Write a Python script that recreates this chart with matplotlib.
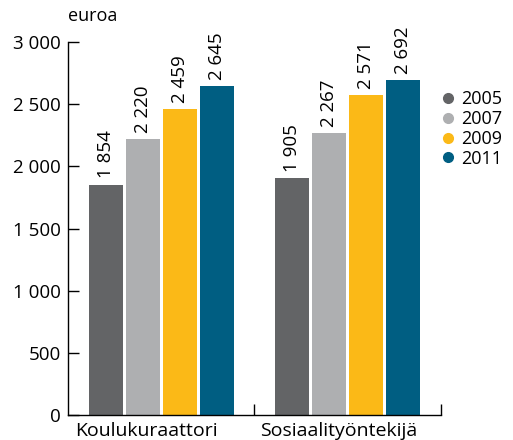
import numpy as np
import matplotlib.pyplot as plt
from matplotlib.lines import Line2D

plt.rcParams['font.family'] = ['Open Sans', 'DejaVu Sans']

# Keskiansiot ammateittain
categories = ['Koulukuraattori', 'Sosiaalityöntekijä']
years = ['2005', '2007', '2009', '2011']
values_2005 = [1854, 1905]
values_2007 = [2220, 2267]
values_2009 = [2459, 2571]
values_2011 = [2645, 2692]
series = [values_2005, values_2007, values_2009, values_2011]
colors = ['#636466', '#aeafb1', '#fbb917', '#005e82']
yticks = [0, 500, 1000, 1500, 2000, 2500, 3000]


def fmt(v):
    return f'{v:,}'.replace(',', ' ')


fig = plt.figure(figsize=(5.13, 4.40), dpi=100)
ax = fig.add_axes([0.1326, 0.0568, 0.727, 0.8477])

centers = np.arange(len(categories)) + 0.5
width = 0.182
step = 0.198

for i, (vals, col) in enumerate(zip(series, colors)):
    xs = centers + (i - 1.5) * step
    ax.bar(xs, vals, width=width, color=col)
    for x, v in zip(xs, vals):
        ax.text(x, v + 50, fmt(v), rotation=90, ha='center', va='bottom', fontsize=13.5)

ax.set_xlim(0, 2)
ax.set_ylim(0, 3000)
ax.set_yticks(yticks)
ax.set_yticklabels([fmt(t) for t in yticks], fontsize=13.5)
ax.set_xticks([1, 2])
ax.set_xticklabels([])
ax.tick_params(axis='both', direction='in', length=8, width=1, color='black')
ax.tick_params(axis='y', pad=5)

for s in ['top', 'right']:
    ax.spines[s].set_visible(False)
for s in ['left', 'bottom']:
    ax.spines[s].set_linewidth(1)

# Kategorioiden nimet vasempaan reunaan
ax.text(0.04, -55, categories[0], ha='left', va='top', fontsize=14)
ax.text(1.03, -55, categories[1], ha='left', va='top', fontsize=14)

ax.text(0.0, 1.045, 'euroa', transform=ax.transAxes, ha='left', va='bottom', fontsize=13)

# Pyöreät merkit selitteeseen
handles = [Line2D([], [], marker='o', linestyle='none', color=c, markersize=7) for c in colors]
ax.legend(handles, years, loc='upper left', bbox_to_anchor=(0.995, 0.88), frameon=False,
          handlelength=0.6, handletextpad=0.4, labelspacing=0.1, fontsize=13,
          borderaxespad=0, borderpad=0.2)

fig.savefig('out.png', dpi=100)
